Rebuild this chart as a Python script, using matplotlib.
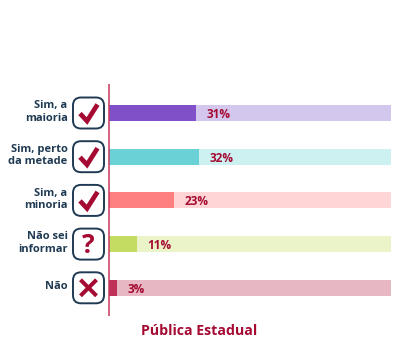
import matplotlib
matplotlib.use("Agg")
import matplotlib.pyplot as plt
from matplotlib.patches import FancyBboxPatch

categories = ["Sim, a\nmaioria", "Sim, perto\nda metade", "Sim, a\nminoria", "Não sei\ninformar", "Não"]
values = [31, 32, 23.3, 10.2, 3.1]
value_labels = ["31%", "32%", "23%", "11%", "3%"]
icons = ["check", "check", "check", "question", "cross"]
dark_colors = ["#7f50c8", "#6ad2d6", "#ff8080", "#c4dc62", "#bf3059"]
light_colors = ["#d4c7ee", "#cdf1f1", "#ffd5d5", "#ebf3c9", "#e7b7c4"]
title = "Pública Estadual"

W, H = 401, 350
RED = "#a50a32"
NAVY = "#1f3a52"
FONT = ["Open Sans", "DejaVu Sans"]

fig = plt.figure(figsize=(W / 100, H / 100), dpi=100, facecolor="white")
L, R, T, B = 108.5, 391, 84, 316
ax = fig.add_axes([L / W, 1 - B / H, (R - L) / W, (B - T) / H])
step = 43.7
first = 113
ax.set_xlim(0, 100)
ax.set_ylim((B - first) / step, (T - first) / step)
ax.axis("off")
ypos = list(range(len(categories)))
ax.barh(ypos, [100] * len(values), height=16 / step, color=light_colors, linewidth=0)
ax.barh(ypos, values, height=16 / step, color=dark_colors, linewidth=0)
for y, v, s in zip(ypos, values, value_labels):
    ax.annotate(s, (v, y), xytext=(7.5, 0), textcoords="offset points", va="center_baseline",
                ha="left", color=RED, fontsize=8.5, fontweight="bold", family=FONT)

ov = fig.add_axes([0, 0, 1, 1])
ov.set_xlim(0, W)
ov.set_ylim(H, 0)
ov.axis("off")
ov.patch.set_alpha(0)
ov.plot([L, L], [T, B], color="#c8385c", lw=1.1, solid_capstyle="butt")

cx = 88.5
for i, (cat, icon) in enumerate(zip(categories, icons)):
    cy = first + i * step
    ov.text(67.5, cy - 1, cat, ha="right", va="center", ma="right", color=NAVY, fontsize=8.0,
            fontweight="bold", family=FONT, linespacing=1.2)
    ov.add_patch(FancyBboxPatch((cx - 10, cy - 10), 20, 20, boxstyle="round,pad=5.5,rounding_size=8",
                                fc="white", ec=NAVY, lw=1.4))
    if icon == "check":
        ov.plot([cx - 8.5, cx - 1.5, cx + 9], [cy + 0.5, cy + 8, cy - 8.5], color=RED, lw=3.4,
                solid_joinstyle="miter", solid_capstyle="butt")
    elif icon == "cross":
        ov.plot([cx - 8, cx + 8], [cy - 8, cy + 8], color=RED, lw=2.9, solid_capstyle="butt")
        ov.plot([cx - 8, cx + 8], [cy + 8, cy - 8], color=RED, lw=2.9, solid_capstyle="butt")
    else:
        ov.text(cx, cy + 1.2, "?", ha="center", va="center", color=RED, fontsize=19,
                fontweight="bold", family=FONT)

ov.text(199.5, 331, title, ha="center", va="center", color=RED, fontsize=10.2,
        fontweight="bold", family=FONT)
fig.savefig("out.png", dpi=100)
